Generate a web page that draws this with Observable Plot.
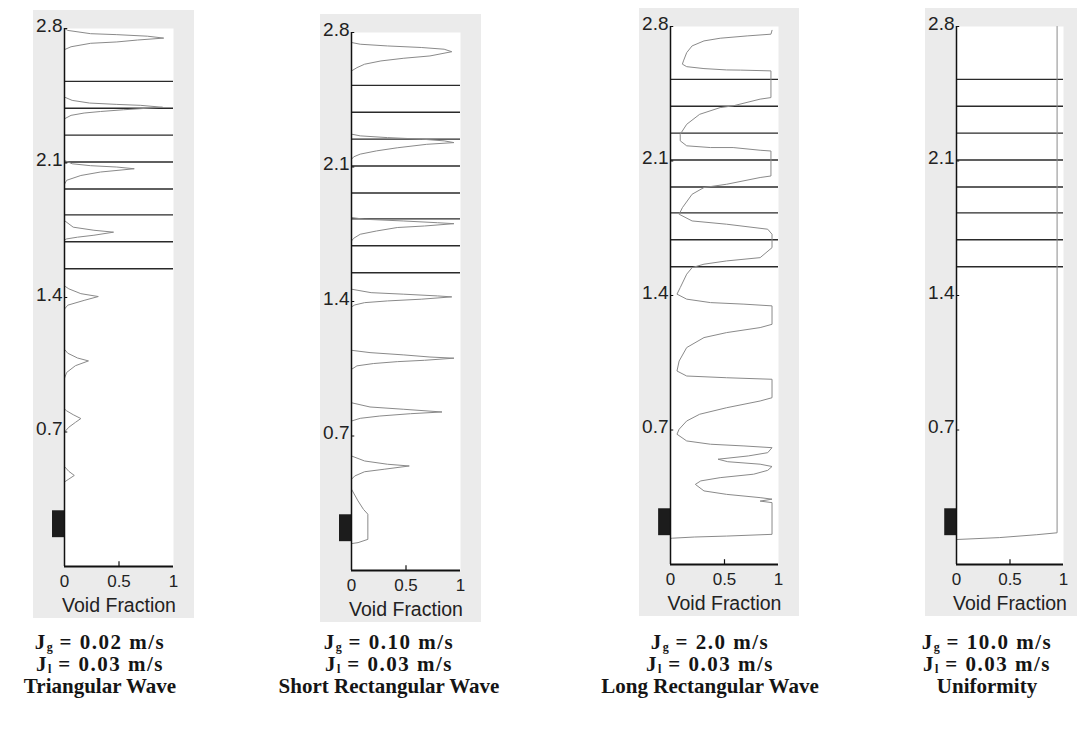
<!DOCTYPE html>
<html><head><meta charset="utf-8">
<script src="https://cdn.jsdelivr.net/npm/d3@7"></script>
<script src="https://cdn.jsdelivr.net/npm/@observablehq/plot@0.6"></script>
<style>
html,body{margin:0;padding:0;background:#fff}
body{width:1080px;height:734px;position:relative;overflow:hidden;font-family:"Liberation Sans",Arial,sans-serif}
.panel{position:absolute}
.panel svg{max-width:none !important;display:block}
.cap{position:absolute;width:300px;text-align:center;font-family:"Liberation Serif","Times New Roman",serif;font-weight:bold;font-size:21px;line-height:22px;color:#151515}
.cap .j{letter-spacing:1.5px}
.cap sub{font-size:12px;vertical-align:-2px;line-height:0;letter-spacing:0}
</style></head><body>
<script>
// ---- data ----
const xTicks = [0, 0.5, 1];
const xTickLabels = ["0", "0.5", "1"];
const yTicks = [0.7, 1.4, 2.1, 2.8];
const yTickLabels = ["0.7", "1.4", "2.1", "2.8"];
const xLabel = ["Void Fraction"];
const baseLevel = [0];
const gridLevels = [1.55, 1.69, 1.83, 1.965, 2.105, 2.245, 2.385, 2.525];
const injectorSpan = [0.15, 0.29];   // height range of the gas injector block
const injectorWidth = 0.11;          // in void-fraction units, left of axis

const triangularWave = [
[0,0.15],[0,0.44],[0.04,0.455],[0.09,0.474],[0.04,0.495],[0,0.52],
[0,0.70],[0.04,0.725],[0.1,0.75],[0.15,0.77],[0.08,0.79],[0.02,0.81],[0,0.82],
[0,0.98],[0.02,1.01],[0.1,1.045],[0.22,1.07],[0.12,1.085],[0.03,1.11],[0,1.13],
[0,1.34],[0.03,1.36],[0.18,1.385],[0.31,1.405],[0.15,1.42],[0.04,1.445],[0,1.46],
[0,1.70],[0.02,1.705],[0.12,1.714],[0.27,1.724],[0.45,1.74],[0.27,1.75],[0.08,1.766],[0,1.80],
[0,1.99],[0.02,2.01],[0.15,2.035],[0.33,2.053],[0.64,2.07],[0.48,2.079],[0.24,2.086],[0.07,2.096],[0,2.113],
[0,2.33],[0.06,2.348],[0.18,2.36],[0.33,2.368],[0.54,2.377],[0.9,2.39],[0.7,2.40],[0.48,2.405],[0.23,2.412],[0.07,2.426],[0,2.443],
[0,2.69],[0.06,2.705],[0.24,2.723],[0.48,2.73],[0.67,2.74],[0.91,2.75],[0.76,2.76],[0.48,2.768],[0.24,2.773],[0.03,2.79],[0,2.8]
];

const shortRectangularWave = [
[0,0.14],[0.06,0.145],[0.15,0.162],[0.15,0.293],[0.11,0.318],[0.06,0.362],[0,0.423],
[0,0.475],[0.03,0.492],[0.12,0.514],[0.30,0.527],[0.53,0.544],[0.33,0.553],[0.12,0.57],[0,0.596],
[0,0.778],[0.08,0.792],[0.26,0.804],[0.54,0.816],[0.83,0.825],[0.48,0.839],[0.17,0.851],[0,0.873],
[0,1.047],[0.05,1.065],[0.2,1.077],[0.42,1.087],[0.67,1.094],[0.94,1.105],[0.72,1.111],[0.48,1.122],[0.17,1.134],[0,1.146],
[0,1.372],[0.03,1.382],[0.12,1.394],[0.33,1.403],[0.64,1.412],[0.92,1.424],[0.79,1.429],[0.48,1.438],[0.18,1.446],[0,1.464],
[0,1.715],[0.02,1.729],[0.08,1.75],[0.23,1.767],[0.42,1.785],[0.67,1.793],[0.94,1.805],[0.79,1.81],[0.48,1.819],[0.12,1.828],[0,1.837],
[0,2.14],[0.02,2.153],[0.08,2.167],[0.23,2.184],[0.42,2.20],[0.69,2.218],[0.94,2.227],[0.85,2.236],[0.64,2.245],[0.33,2.253],[0.08,2.262],[0,2.271],
[0,2.60],[0.05,2.617],[0.12,2.635],[0.27,2.652],[0.48,2.666],[0.72,2.678],[0.92,2.70],[0.85,2.713],[0.64,2.722],[0.33,2.73],[0.08,2.739],[0,2.748],[0,2.8]
];

const longRectangularWave = [
[0,0.136],[0.02,0.137],[0.22,0.143],[0.52,0.148],[0.94,0.157],[0.94,0.322],[0.83,0.33],[0.94,0.34],
[0.83,0.348],[0.52,0.365],[0.31,0.383],[0.23,0.417],[0.28,0.435],[0.46,0.452],[0.77,0.47],[0.9,0.49],[0.94,0.51],
[0.83,0.522],[0.53,0.535],[0.44,0.548],[0.72,0.565],[0.90,0.582],[0.94,0.608],[0.68,0.617],[0.37,0.626],[0.15,0.643],
[0.06,0.678],[0.08,0.704],[0.15,0.747],[0.27,0.782],[0.52,0.816],[0.83,0.851],[0.94,0.868],[0.94,0.964],[0.52,0.972],
[0.15,0.981],[0.06,1.007],[0.08,1.059],[0.15,1.129],[0.31,1.181],[0.52,1.207],[0.83,1.233],[0.94,1.25],[0.94,1.346],
[0.68,1.355],[0.37,1.363],[0.15,1.381],[0.06,1.407],[0.09,1.441],[0.15,1.511],[0.2,1.545],[0.31,1.563],[0.52,1.58],
[0.83,1.597],[0.94,1.649],[0.94,1.719],[0.9,1.745],[0.52,1.771],[0.2,1.788],[0.08,1.823],[0.11,1.857],[0.2,1.927],
[0.31,1.962],[0.52,1.979],[0.83,2.014],[0.93,2.022],[0.93,2.152],[0.83,2.156],[0.58,2.17],[0.37,2.17],[0.15,2.179],
[0.09,2.205],[0.09,2.239],[0.15,2.291],[0.27,2.343],[0.46,2.378],[0.58,2.387],[0.83,2.422],[0.93,2.43],[0.93,2.569],
[0.65,2.573],[0.52,2.574],[0.31,2.581],[0.15,2.591],[0.11,2.604],[0.12,2.621],[0.15,2.664],[0.2,2.699],[0.31,2.725],
[0.46,2.739],[0.71,2.751],[0.93,2.76],[0.94,2.78]
];

const uniformity = [[0,0.13],[0.4,0.14],[0.75,0.155],[0.94,0.165],[0.94,2.8]];

const profiles = [triangularWave, shortRectangularWave, longRectangularWave, uniformity];
const jgValues = ["0.02", "0.10", "2.0", "10.0"];
const jlValues = ["0.03", "0.03", "0.03", "0.03"];
const regimes = ["Triangular Wave", "Short Rectangular Wave", "Long Rectangular Wave", "Uniformity"];

// ---- layout ----
const layout = [
  {axis: 64,  dy: 0,    w: 109, mr: 21, cap: 100},
  {axis: 351, dy: 3.5,  w: 109, mr: 21, cap: 389},
  {axis: 670, dy: -2.5, w: 108, mr: 21, cap: 710},
  {axis: 956, dy: -2,   w: 107, mr: 14, cap: 987}
];

layout.forEach((L, i) => {
  const ML = 31, MR = L.mr;
  const chart = Plot.plot({
    width: ML + L.w + MR, height: 608,
    marginLeft: ML, marginRight: MR, marginTop: 18, marginBottom: 52,
    style: {background: "#ebebeb", overflow: "visible", maxWidth: "none", fontFamily: "Liberation Sans, Arial, sans-serif", color: "#222"},
    x: {domain: [0, 1]},
    y: {domain: [0, 2.8]},
    marks: [
      Plot.frame({fill: "#ffffff", stroke: "none"}),
      Plot.ruleY(gridLevels, {x1: 0, x2: 1, stroke: "#2a2a2a", strokeWidth: 1.4}),
      Plot.line(profiles[i], {x: d => d[0], y: d => d[1], stroke: "#8a8a8a", strokeWidth: 1}),
      Plot.rect([injectorSpan], {x1: -injectorWidth, x2: 0, y1: d => d[0], y2: d => d[1], fill: "#1c1c1c"}),
      Plot.ruleX([0], {y1: 0, y2: 2.8, stroke: "#111", strokeWidth: 1.5}),
      Plot.ruleY(yTicks, {x1: 0, x2: 0.03, stroke: "#111"}),
      Plot.axisX({ticks: xTicks, tickFormat: d => xTickLabels[xTicks.indexOf(d)], tickSize: 0, tickPadding: 8, fontSize: 17, label: null}),
      Plot.axisY({ticks: yTicks, tickFormat: d => yTickLabels[yTicks.indexOf(d)], tickSize: 0, tickPadding: 2, fontSize: 19, label: null, dy: -3}),
      Plot.text(xLabel, {text: d => d, frameAnchor: "bottom", dy: 45, fontSize: 19.5}),
      Plot.ruleY(baseLevel, {x1: 0, x2: 1, stroke: "#111", strokeWidth: 1.8}),
      Plot.ruleX([0.5], {y1: 0, y2: 0.025, stroke: "#111", strokeWidth: 1.2})
    ]
  });
  const wrap = document.createElement("div");
  wrap.className = "panel";
  wrap.style.left = (L.axis - ML) + "px";
  wrap.style.top = (10 + L.dy) + "px";
  wrap.style.width = (ML + L.w + MR) + "px";
  wrap.appendChild(chart);
  document.body.appendChild(wrap);

  const cap = document.createElement("div");
  cap.className = "cap";
  cap.style.left = (L.cap - 150) + "px";
  cap.style.top = "631px";
  cap.innerHTML = `<div class="j">J<sub>g</sub> = ${jgValues[i]} m/s</div><div class="j">J<sub>l</sub> = ${jlValues[i]} m/s</div><div>${regimes[i]}</div>`;
  document.body.appendChild(cap);
});
</script>
</body></html>
